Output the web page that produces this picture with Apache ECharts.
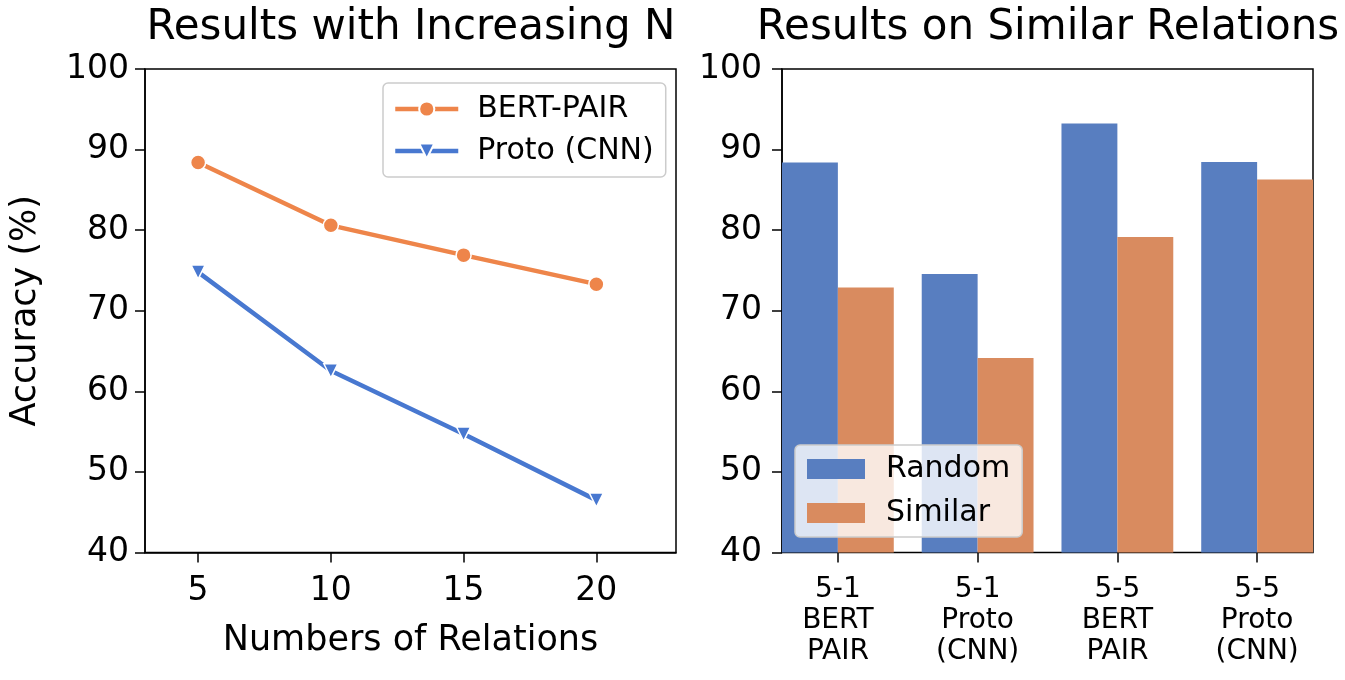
<!DOCTYPE html>
<html>
<head>
<meta charset="utf-8">
<script src="https://cdn.jsdelivr.net/npm/echarts@6/dist/echarts.min.js"></script>
<style>
html,body{margin:0;padding:0;background:#fff;}
#main{width:1345px;height:680px;}
</style>
</head>
<body>
<div id="main"></div>
<script>
// ---- data ----
const nValues = [5, 10, 15, 20];
const xTickValues = [5, 10, 15, 20];
const bertPair = [88.4, 80.6, 76.9, 73.3];
const protoCnn = [74.8, 62.55, 54.7, 46.5];
const barCategories = ['5-1\nBERT\nPAIR', '5-1\nProto\n(CNN)', '5-5\nBERT\nPAIR', '5-5\nProto\n(CNN)'];
const randomVals = [88.4, 74.55, 93.25, 88.45];
const similarVals = [72.9, 64.15, 79.15, 86.3];
const yTicks = { min: 40, max: 100, interval: 10 };

const FONT = 'DejaVu Sans';
const chart = echarts.init(document.getElementById('main'), null, { renderer: 'canvas' });

const frameGrid = { show: true, borderColor: '#000', borderWidth: 1.5, backgroundColor: 'transparent' };
const tickStyle = { show: true, length: 10, lineStyle: { color: '#000', width: 1.5 } };
const labelStyle = { color: '#000', fontFamily: FONT, fontSize: 33 };

chart.setOption({
  animation: false,
  backgroundColor: '#fff',
  title: [
    { text: 'Results with Increasing N', left: 406, top: 2, textAlign: 'center',
      textStyle: { fontFamily: FONT, fontSize: 42, fontWeight: 'normal', color: '#000' } },
    { text: 'Results on Similar Relations', left: 1043, top: 2, textAlign: 'center',
      textStyle: { fontFamily: FONT, fontSize: 42, fontWeight: 'normal', color: '#000' } }
  ],
  grid: [
    Object.assign({ left: 145, top: 69, width: 531, height: 483.5 }, frameGrid),
    Object.assign({ left: 782, top: 69, width: 531, height: 483.5 }, frameGrid),
    { left: 768, top: 69, width: 559, height: 483.5, show: false }
  ],
  legend: [
    {
      data: ['BERT-PAIR', 'Proto (CNN)'],
      orient: 'vertical', left: 383, top: 83,
      itemWidth: 63, itemHeight: 19, itemGap: 12,
      padding: [11, 12, 11, 10],
      lineStyle: { width: 4.5 },
      backgroundColor: 'rgba(255,255,255,0.8)', borderColor: '#cccccc', borderWidth: 1.5, borderRadius: 5,
      textStyle: { fontFamily: FONT, fontSize: 30, color: '#000', lineHeight: 28, padding: [0, 0, 0, 14] }
    },
    {
      data: ['Random', 'Similar'],
      orient: 'vertical', left: 795, top: 445,
      icon: 'rect', itemWidth: 58, itemHeight: 20, itemGap: 14,
      padding: [9, 12, 9, 12],
      backgroundColor: 'rgba(255,255,255,0.8)', borderColor: '#cccccc', borderWidth: 1.5, borderRadius: 5,
      textStyle: { fontFamily: FONT, fontSize: 30, color: '#000', lineHeight: 28, padding: [0, 0, 0, 16] }
    }
  ],
  xAxis: [
    {
      type: 'value', gridIndex: 0, min: 3, max: 23,
      axisLine: { show: true, lineStyle: { color: '#000', width: 1.5 } },
      axisTick: Object.assign({ customValues: xTickValues }, tickStyle),
      axisLabel: Object.assign({ customValues: xTickValues, margin: 22 }, labelStyle),
      splitLine: { show: false },
      name: 'Numbers of Relations', nameLocation: 'middle', nameGap: 71,
      nameTextStyle: { fontFamily: FONT, fontSize: 35, color: '#000' }
    },
    { type: 'value', gridIndex: 1, min: 0, max: 1, show: false },
    {
      type: 'category', gridIndex: 2, data: barCategories, boundaryGap: true,
      axisLine: { show: false },
      axisTick: Object.assign({ alignWithLabel: true }, tickStyle),
      axisLabel: { color: '#000', fontFamily: FONT, fontSize: 28, lineHeight: 31, margin: 22 },
      splitLine: { show: false }
    }
  ],
  yAxis: [
    {
      type: 'value', gridIndex: 0, min: yTicks.min, max: yTicks.max, interval: yTicks.interval,
      axisLine: { show: true, lineStyle: { color: '#000', width: 1.5 } },
      axisTick: tickStyle,
      axisLabel: Object.assign({ margin: 16 }, labelStyle),
      splitLine: { show: false },
      name: 'Accuracy (%)', nameLocation: 'middle', nameGap: 102, nameRotate: 90,
      nameTextStyle: { fontFamily: FONT, fontSize: 35, color: '#000' }
    },
    {
      type: 'value', gridIndex: 1, min: yTicks.min, max: yTicks.max, interval: yTicks.interval,
      axisLine: { show: true, lineStyle: { color: '#000', width: 1.5 } },
      axisTick: tickStyle,
      axisLabel: Object.assign({ margin: 20 }, labelStyle),
      splitLine: { show: false }
    },
    { type: 'value', gridIndex: 2, min: yTicks.min, max: yTicks.max, show: false }
  ],
  series: [
    {
      name: 'BERT-PAIR', type: 'line', xAxisIndex: 0, yAxisIndex: 0,
      data: nValues.map((n, i) => [n, bertPair[i]]),
      symbol: 'circle', symbolSize: 15,
      lineStyle: { color: '#EE854A', width: 4.5 },
      itemStyle: { color: '#EE854A', borderColor: '#fff', borderWidth: 1.5 },
      z: 3
    },
    {
      name: 'Proto (CNN)', type: 'line', xAxisIndex: 0, yAxisIndex: 0,
      data: nValues.map((n, i) => [n, protoCnn[i]]),
      symbol: 'triangle', symbolRotate: 180, symbolSize: 14,
      lineStyle: { color: '#4878D0', width: 4.5 },
      itemStyle: { color: '#4878D0', borderColor: '#fff', borderWidth: 1.5 },
      z: 3
    },
    {
      name: 'Random', type: 'bar', xAxisIndex: 2, yAxisIndex: 2,
      data: randomVals, barGap: '0%', barCategoryGap: '20%',
      itemStyle: { color: '#587EC0' }, clip: true
    },
    {
      name: 'Similar', type: 'bar', xAxisIndex: 2, yAxisIndex: 2,
      data: similarVals, barGap: '0%', barCategoryGap: '20%',
      itemStyle: { color: '#D98B5F' }, clip: true
    }
  ]
});
</script>
</body>
</html>
